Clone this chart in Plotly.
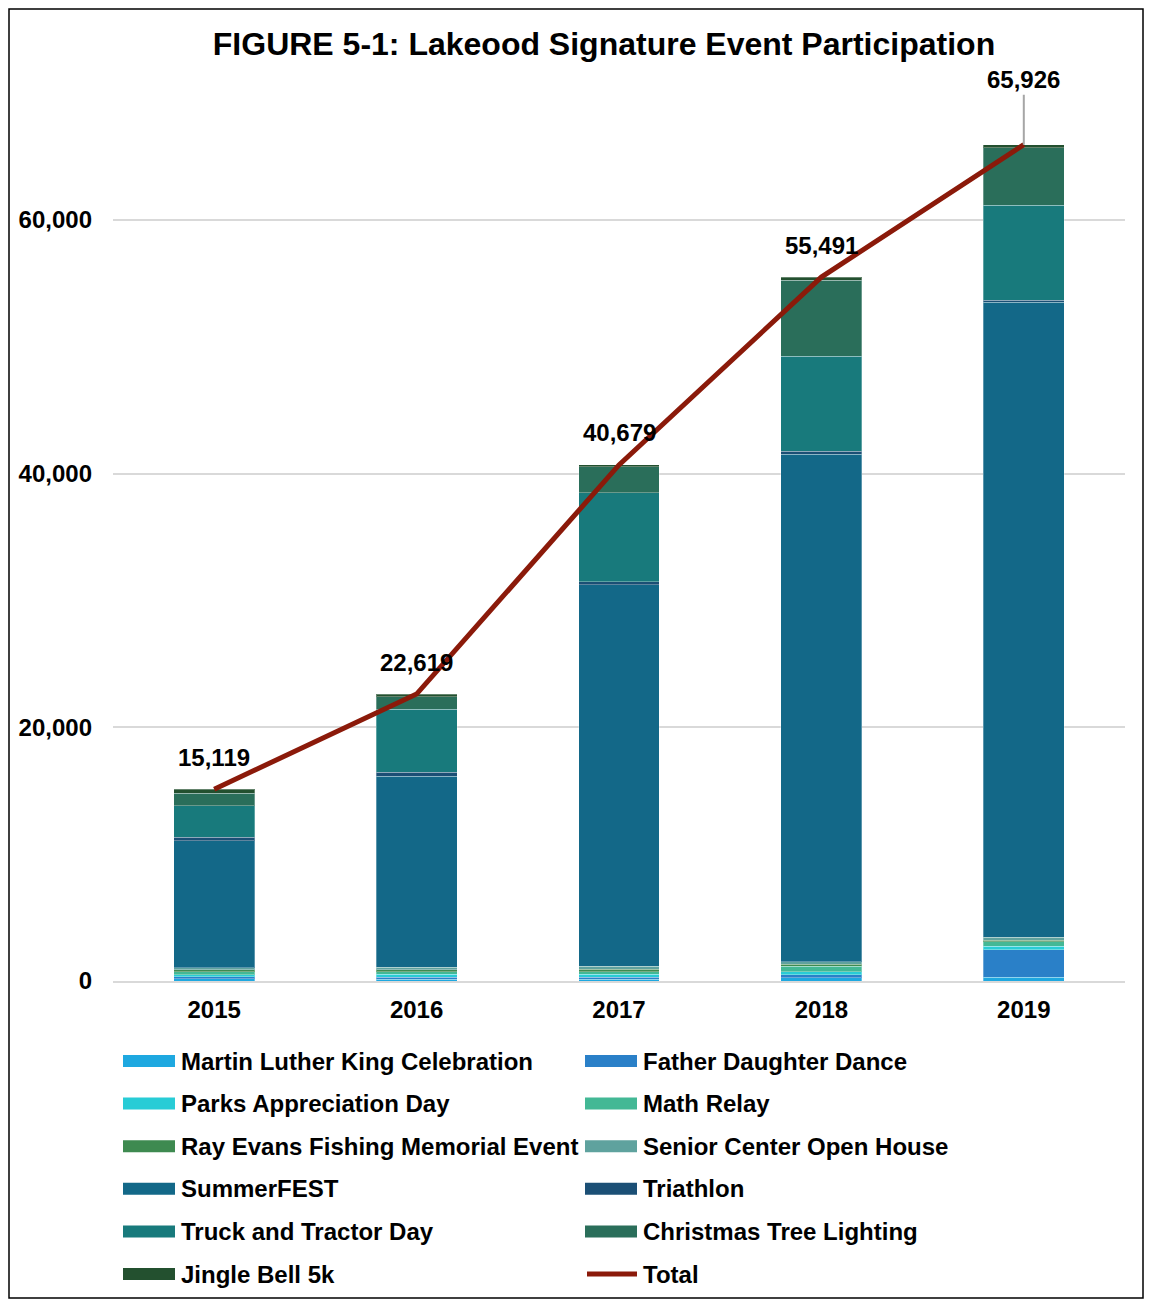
import plotly.graph_objects as go

years = ["2015", "2016", "2017", "2018", "2019"]

event_names = [
    "Martin Luther King Celebration",
    "Father Daughter Dance",
    "Parks Appreciation Day",
    "Math Relay",
    "Ray Evans Fishing Memorial Event",
    "Senior Center Open House",
    "SummerFEST",
    "Triathlon",
    "Truck and Tractor Day",
    "Christmas Tree Lighting",
    "Jingle Bell 5k",
]

mlk = [160, 130, 130, 240, 315]
father_daughter = [160, 180, 180, 240, 2150]
parks = [180, 210, 240, 260, 290]
math_relay = [210, 210, 180, 420, 340]
ray_evans = [160, 160, 180, 180, 130]
senior_center = [160, 180, 240, 180, 240]
summerfest = [10024, 15079, 30099, 40011, 50051]
triathlon = [260, 290, 210, 210, 130]
truck_tractor = [2490, 4970, 7040, 7520, 7520]
christmas_tree = [1000, 1000, 2020, 5990, 4520]
jingle_bell = [315, 210, 160, 240, 240]

totals = [15119, 22619, 40679, 55491, 65926]
total_labels = ["15,119", "22,619", "40,679", "55,491", "65,926"]

event_values = [mlk, father_daughter, parks, math_relay, ray_evans, senior_center,
                summerfest, triathlon, truck_tractor, christmas_tree, jingle_bell]

event_colors = ["#1EA8E0", "#2A80C8", "#28CCD6", "#43B895", "#3E8A50", "#5FA29E",
                "#136888", "#1B4F75", "#187A7C", "#2A6E5A", "#23502F"]
total_color = "#8B1A0A"

FONT = "Arial, Liberation Sans, sans-serif"
BOLD = dict(family=FONT, size=24, color="black", weight="bold")

fig = go.Figure()
for name, vals, col in zip(event_names, event_values, event_colors):
    fig.add_trace(go.Bar(
        x=years, y=vals, name=name, showlegend=False,
        marker=dict(color=col, line=dict(color="rgba(255,255,255,0.3)", width=1)),
    ))

fig.add_trace(go.Scatter(
    x=years, y=totals, name="Total", mode="lines", showlegend=False,
    line=dict(color=total_color, width=5),
))

for i, (tot, lab) in enumerate(zip(totals, total_labels)):
    if i == len(totals) - 1:
        fig.add_annotation(x=i, y=tot, text=lab, showarrow=True, arrowhead=0,
                           arrowcolor="#A6A6A6", arrowwidth=2, ax=0, ay=-65,
                           font=BOLD)
    else:
        fig.add_annotation(x=i, y=tot, text=lab, showarrow=False, yshift=32,
                           font=BOLD)

# page body adds an 8px offset; figure sized to fit the 1152x1307 window
OFF = 8
W, H = 1152 - 2 * OFF, 1307 - 2 * OFF
ml, mr, mt, mb = 105, 19, 85, 318
pw, ph = W - ml - mr, H - mt - mb

def px_x(p):
    return (p - OFF - ml) / pw

def px_y(p):
    return (H - mb - (p - OFF)) / ph

# outer frame
fig.add_shape(type="rect", xref="paper", yref="paper",
              x0=-(ml - 1) / pw, x1=1 + (mr - 1) / pw,
              y0=-(mb - 1) / ph, y1=1 + (mt - 1) / ph,
              line=dict(color="black", width=1.5), layer="below")

# legend: two columns, wide swatches
legend_names = event_names + ["Total"]
legend_colors = event_colors + [total_color]
col_x = [123, 585]
row_y0, row_step = 1061, 42.6
sw_w, sw_h = 52, 12
for k, (name, col) in enumerate(zip(legend_names, legend_colors)):
    r, c = divmod(k, 2)
    cy = row_y0 + r * row_step
    x0 = col_x[c]
    if name == "Total":
        fig.add_shape(type="line", xref="paper", yref="paper",
                      x0=px_x(x0 + 2), x1=px_x(x0 + sw_w), y0=px_y(cy), y1=px_y(cy),
                      line=dict(color=col, width=5))
    else:
        fig.add_shape(type="rect", xref="paper", yref="paper",
                      x0=px_x(x0), x1=px_x(x0 + sw_w),
                      y0=px_y(cy + sw_h / 2), y1=px_y(cy - sw_h / 2),
                      line=dict(width=0), fillcolor=col)
    fig.add_annotation(xref="paper", yref="paper", x=px_x(x0 + sw_w + 4), y=px_y(cy),
                       xanchor="left", yanchor="middle", text=name, showarrow=False,
                       font=BOLD)

fig.update_layout(
    width=W, height=H,
    margin=dict(l=ml, r=mr, t=mt, b=mb, autoexpand=False),
    barmode="stack", bargap=0.6,
    plot_bgcolor="white", paper_bgcolor="white",
    font=BOLD,
    title=dict(text="FIGURE 5-1: Lakeood Signature Event Participation",
               x=(604 - OFF) / W, xref="container", xanchor="center",
               y=1 - (44 - OFF) / H, yref="container", yanchor="middle",
               font=dict(family=FONT, size=32, color="black", weight="bold")),
    xaxis=dict(type="category", showgrid=False, showline=True, linecolor="#D9D9D9",
               linewidth=2, tickfont=BOLD, ticks="", automargin=False,
               ticklabelstandoff=6),
    yaxis=dict(range=[0, 70000], dtick=20000, tickformat=",", showgrid=True,
               gridcolor="#D9D9D9", gridwidth=1.5, zeroline=False,
               tickfont=BOLD, ticks="", automargin=False, ticklabelstandoff=20),
    showlegend=False,
)

fig.write_html("out.html")
